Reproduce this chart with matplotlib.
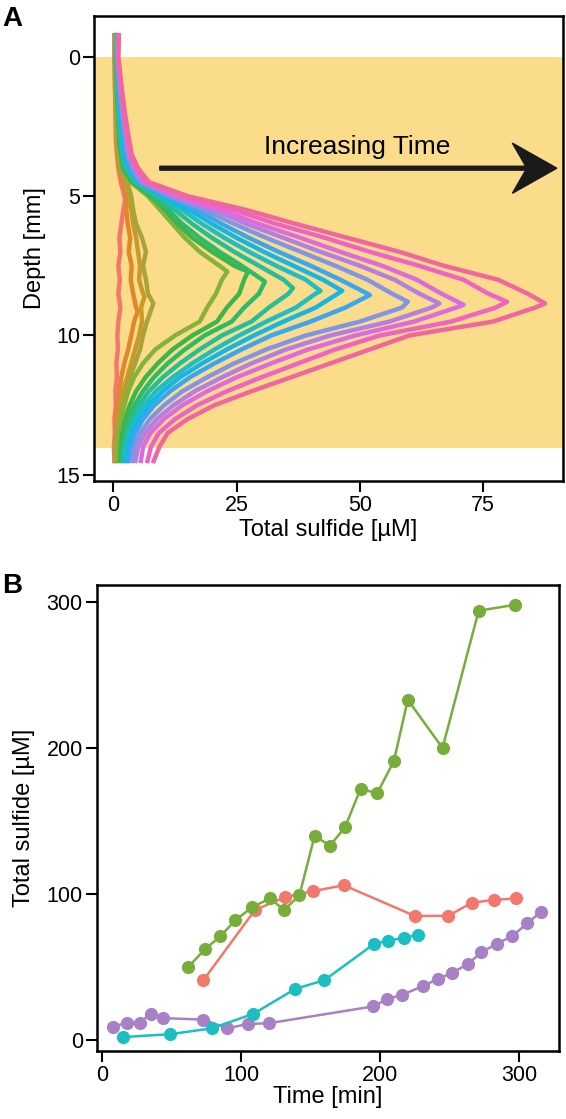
import matplotlib
matplotlib.use("Agg")
from matplotlib import pyplot as plt

plt.rcParams['font.family'] = ['Liberation Sans', 'DejaVu Sans']

# ---- panel A: sulfide depth profiles ----
depth_mm = [-0.85, 0.0, 1.0, 2.0, 3.0, 3.5, 4.0, 4.5, 5.0, 5.5, 6.0, 6.5, 7.0, 7.5,
            8.0, 8.5, 9.0, 9.5, 10.0, 10.5, 11.0, 11.5, 12.0, 12.5, 13.0, 13.5, 14.0, 14.58]

prof_1 = [0.2, 0.2, 0.3, 0.4, 0.5, 0.7, 1.0, 1.5, 2.2, 2.0, 1.6, 1.2, 1.4, 1.0,
          1.3, 1.0, 1.4, 1.0, 0.8, 0.9, 0.6, 0.7, 0.4, 0.5, 0.2, 0.3, 0.1, 0.2]
prof_2 = [0.2, 0.3, 0.3, 0.5, 0.6, 0.8, 1.1, 2.0, 2.8, 2.6, 2.9, 3.4, 3.1, 3.7,
          3.5, 4.0, 4.6, 4.2, 3.6, 3.0, 2.2, 1.6, 1.2, 0.9, 0.6, 0.5, 0.3, 0.3]
prof_3 = [0.3, 0.3, 0.4, 0.5, 0.7, 0.9, 1.2, 2.5, 3.2, 3.6, 4.0, 4.6, 5.0, 5.4,
          5.2, 6.0, 5.6, 5.8, 5.2, 4.4, 3.6, 2.8, 2.0, 1.4, 1.0, 0.7, 0.5, 0.4]
prof_4 = [0.3, 0.3, 0.4, 0.6, 0.8, 1.0, 1.4, 2.8, 3.6, 4.0, 4.6, 5.8, 6.6, 6.0,
          6.6, 7.0, 7.8, 6.8, 6.0, 5.4, 4.4, 3.4, 2.5, 1.7, 1.1, 0.6, 0.4, 0.3]
prof_5 = [0.5, 0.4, 0.6, 0.8, 1.1, 1.3, 1.8, 3.5, 7.0, 9.5, 12.0, 14.5, 17.5, 21.5,
          22.0, 20.8, 19.0, 17.5, 12.5, 8.5, 6.0, 4.2, 3.0, 2.2, 1.6, 1.2, 1.0, 0.8]
prof_6 = [0.6, 0.5, 0.7, 0.9, 1.2, 1.5, 2.0, 3.8, 7.5, 10.5, 13.0, 16.0, 20.0, 24.5,
          26.5, 25.5, 23.0, 21.0, 16.0, 12.0, 9.0, 6.5, 4.6, 3.3, 2.4, 1.8, 1.5, 1.3]
prof_7 = [0.6, 0.5, 0.7, 1.0, 1.3, 1.6, 2.2, 4.2, 8.0, 11.2, 14.0, 17.5, 21.5, 26.0,
          30.2, 29.5, 26.5, 24.0, 18.5, 14.5, 11.0, 8.2, 6.0, 4.3, 3.1, 2.3, 1.9, 1.6]
prof_8 = [0.7, 0.6, 0.8, 1.1, 1.5, 1.8, 2.5, 4.5, 8.8, 12.5, 16.0, 20.0, 24.5, 29.5,
          34.5, 35.5, 31.5, 28.0, 22.0, 17.5, 13.5, 10.0, 7.2, 5.2, 3.8, 2.8, 2.2, 1.9]
prof_9 = [0.7, 0.6, 0.9, 1.2, 1.7, 2.0, 2.8, 4.8, 9.5, 14.0, 18.0, 22.5, 27.5, 33.0,
          39.0, 41.0, 37.0, 31.0, 25.5, 20.5, 16.0, 12.0, 8.6, 6.2, 4.5, 3.3, 2.6, 2.3]
prof_10 = [0.8, 0.7, 1.0, 1.4, 1.9, 2.3, 3.2, 5.0, 10.0, 15.5, 20.0, 25.0, 30.5, 36.5,
           42.5, 45.5, 41.0, 34.5, 28.5, 23.0, 18.0, 13.5, 10.0, 7.2, 5.2, 3.8, 3.0, 2.6]
prof_11 = [0.8, 0.7, 1.1, 1.6, 2.2, 2.6, 3.6, 5.3, 10.8, 17.0, 22.0, 27.5, 33.5, 40.0,
           46.0, 51.5, 47.0, 40.0, 32.0, 26.0, 20.5, 15.5, 11.5, 8.3, 6.0, 4.4, 3.5, 3.0]
prof_12 = [0.9, 0.8, 1.2, 1.8, 2.5, 2.9, 3.9, 5.6, 11.5, 18.5, 24.5, 31.0, 38.0, 45.0,
           51.5, 56.5, 58.5, 50.0, 39.0, 31.0, 24.5, 19.0, 14.0, 10.3, 7.4, 5.4, 4.3, 3.8]
prof_13 = [0.9, 0.8, 1.3, 2.0, 2.7, 3.1, 4.2, 6.0, 12.3, 20.5, 27.0, 34.5, 42.0, 50.0,
           57.0, 62.0, 64.5, 56.0, 44.0, 35.0, 28.0, 22.0, 16.5, 12.2, 8.8, 6.4, 5.0, 4.4]
prof_14 = [1.0, 0.9, 1.4, 2.1, 2.9, 3.3, 4.5, 6.3, 13.0, 22.0, 29.5, 38.0, 46.0, 54.5,
           61.5, 66.5, 69.5, 61.0, 49.0, 39.5, 32.0, 25.0, 19.0, 14.0, 10.2, 7.5, 6.0, 5.5]
prof_15 = [1.0, 0.9, 1.5, 2.2, 3.0, 3.5, 4.8, 6.8, 14.0, 24.5, 33.0, 43.0, 52.0, 62.0,
           71.0, 76.0, 77.5, 68.5, 54.0, 45.0, 37.5, 30.0, 23.0, 17.0, 12.5, 9.2, 7.6, 6.8]
prof_16 = [1.1, 1.0, 1.6, 2.3, 3.2, 3.7, 5.0, 7.2, 15.0, 27.0, 37.0, 47.5, 58.0, 67.0,
           78.0, 84.0, 85.5, 77.0, 60.0, 52.0, 44.0, 36.0, 28.0, 20.5, 15.0, 11.0, 9.3, 8.0]

# tip of each profile (depth, sulfide)
peak_depth = [5.1, 9.15, 8.6, 8.85, 7.71, 7.71, 8.07, 8.3, 8.4, 8.4, 8.55, 8.79, 8.85, 8.9, 8.79, 8.85]
peak_value = [2.4, 4.9, 6.3, 8.1, 23.1, 27.3, 30.7, 36.4, 42.0, 46.4, 52.0, 59.7, 66.1, 71.0, 79.8, 87.5]

profiles = [prof_1, prof_2, prof_3, prof_4, prof_5, prof_6, prof_7, prof_8,
            prof_9, prof_10, prof_11, prof_12, prof_13, prof_14, prof_15, prof_16]
profile_colors = ['#F3776D', '#E2862A', '#C99A2A', '#A9A43A', '#86B23A', '#3DB54A',
                  '#2DBA6A', '#25BE9A', '#1FBEC4', '#14B6E6', '#3AA6F0', '#8294E6',
                  '#B47FE0', '#DD6BDD', '#F062C4', '#F0669E']

# ---- panel B: total sulfide vs time ----
green_t = [62, 74, 85, 96, 108, 121, 131, 142, 153, 164, 175, 186, 198, 210, 220, 245, 271, 297]
green_v = [50, 62, 71, 82, 91, 97, 89, 99, 140, 133, 146, 172, 169, 191, 233, 200, 294, 298]
red_t = [73, 110, 132, 152, 174, 225, 249, 266, 282, 298]
red_v = [41, 89, 98, 102, 106, 85, 85, 94, 96, 97]
cyan_t = [15, 49, 79, 109, 139, 160, 196, 206, 217, 227]
cyan_v = [2, 4, 8, 18, 35, 41, 66, 68, 70, 72]
purple_t = [8, 18, 27, 35, 44, 73, 90, 105, 120, 195, 205, 216, 231, 242, 252, 263, 273, 284, 295, 306, 316]
purple_v = [9, 12, 12, 18, 15, 14, 8, 11, 11.5, 23, 28, 31, 37, 42, 46, 52, 60, 66, 71, 80, 88]

W, H = 566, 1119
fig = plt.figure(figsize=(W / 100, H / 100), dpi=100)

axA = fig.add_axes([94 / W, 1 - 481 / H, 468.7 / W, 465.3 / H])
axB = fig.add_axes([96.7 / W, 1 - 1050.7 / H, 462.6 / W, 465.7 / H])

axA.axhspan(0, 14.05, color='#FBDC8B', lw=0, zorder=0)
for i in range(len(profiles)):
    pts = sorted(zip(depth_mm + [peak_depth[i]], profiles[i] + [peak_value[i]]))
    d = [p[0] for p in pts]
    v = [p[1] for p in pts]
    axA.plot(v, d, color=profile_colors[i], lw=3.2, solid_joinstyle='round',
             solid_capstyle='butt', zorder=2)

axA.arrow(9.4, 4.0, 80.5, 0, width=0.14, head_width=1.8, head_length=9.0,
          overhang=0.3, length_includes_head=True, color='#1a1a1a', zorder=3)
axA.text(49.4, 3.25, 'Increasing Time', fontsize=19, ha='center', va='center', zorder=3)

axA.set_xlim(-3.94, 91.1)
axA.set_ylim(15.22, -1.47)
axA.set_xticks([0, 25, 50, 75])
axA.set_yticks([0, 5, 10, 15])
axA.set_xlabel('Total sulfide [µM]', fontsize=17, labelpad=2)
axA.set_ylabel('Depth [mm]', fontsize=17, labelpad=7)

for t, v, c in [(purple_t, purple_v, '#A880C5'), (cyan_t, cyan_v, '#1BBFC3'),
                (red_t, red_v, '#F3786C'), (green_t, green_v, '#78AD3C')]:
    axB.plot(t, v, color=c, lw=1.8, marker='o', markersize=9.5, markeredgewidth=0)

axB.set_xlim(-3.8, 329)
axB.set_ylim(-7.3, 311.6)
axB.set_xticks([0, 100, 200, 300])
axB.set_yticks([0, 100, 200, 300])
axB.set_xlabel('Time [min]', fontsize=17, labelpad=0)
axB.set_ylabel('Total sulfide [µM]', fontsize=17, labelpad=8)

for ax in (axA, axB):
    for s in ax.spines.values():
        s.set_linewidth(1.8)
    ax.tick_params(direction='out', length=8, width=1.5, labelsize=15.5, pad=2)

fig.text(0.004, 1 - 6 / H, 'A', fontsize=20, fontweight='bold', ha='left', va='top')
fig.text(0.004, 1 - 573 / H, 'B', fontsize=20, fontweight='bold', ha='left', va='top')

fig.savefig('out.png', dpi=100)
